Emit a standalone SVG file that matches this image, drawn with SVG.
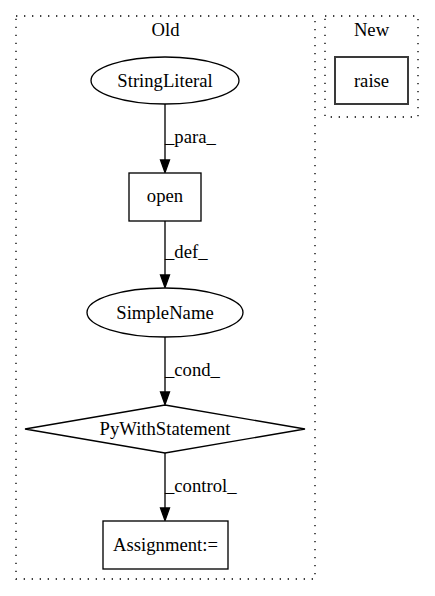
<svg xmlns="http://www.w3.org/2000/svg" width="435" height="596" viewBox="0 0 435 596">
<style>
text{font-family:'Liberation Serif','Times New Roman',serif;font-size:18.67px;fill:#000}
.c{text-anchor:middle}
.cl{fill:none;stroke:#000;stroke-width:1.33;stroke-dasharray:1.33,6.67}
.n{fill:#fff;stroke:#000;stroke-width:1.33}
.e{fill:none;stroke:#000;stroke-width:1.33}
.ah{fill:#000;stroke:#000;stroke-width:1.33}
</style>
<rect width="435" height="596" fill="#fff"/>
<g id="cluster_old">
<rect class="cl" x="16" y="16" width="299" height="563"/>
<text class="c" x="165.5" y="36">Old</text>
</g>
<g id="cluster_new">
<rect class="cl" x="325" y="16" width="93" height="101"/>
<text class="c" x="371.5" y="36">New</text>
</g>
<g id="edges">
<line class="e" x1="165" y1="104" x2="165" y2="160"/>
<polygon class="ah" points="160.5,160 169.5,160 165,172.5"/>
<text x="165" y="143">_para_</text>
<line class="e" x1="165" y1="221" x2="165" y2="275"/>
<polygon class="ah" points="160.5,275 169.5,275 165,287.5"/>
<text x="165" y="258">_def_</text>
<line class="e" x1="165" y1="337" x2="165" y2="392"/>
<polygon class="ah" points="160.5,392 169.5,392 165,404.5"/>
<text x="165" y="376">_cond_</text>
<line class="e" x1="165" y1="453" x2="165" y2="508"/>
<polygon class="ah" points="160.5,508 169.5,508 165,520.5"/>
<text x="165" y="492">_control_</text>
</g>
<g id="StringLiteral">
<ellipse class="n" cx="165" cy="80.5" rx="74" ry="23.5"/>
<text class="c" x="165" y="86.5">StringLiteral</text>
</g>
<g id="open">
<rect class="n" x="129" y="173" width="72" height="48"/>
<text class="c" x="165" y="202">open</text>
</g>
<g id="SimpleName">
<ellipse class="n" cx="165" cy="312.5" rx="78" ry="24.5"/>
<text class="c" x="165" y="318.5">SimpleName</text>
</g>
<g id="PyWithStatement">
<polygon class="n" points="165,405 305,429 165,453 25,429"/>
<text class="c" x="165" y="435">PyWithStatement</text>
</g>
<g id="Assignment">
<rect class="n" x="103" y="521" width="125" height="48"/>
<text class="c" x="165.5" y="551">Assignment:=</text>
</g>
<g id="raise">
<rect x="335" y="57" width="73" height="47" fill="#fff" stroke="#3a3a3a" stroke-width="2"/>
<text class="c" x="371.5" y="86.5">raise</text>
</g>
</svg>
